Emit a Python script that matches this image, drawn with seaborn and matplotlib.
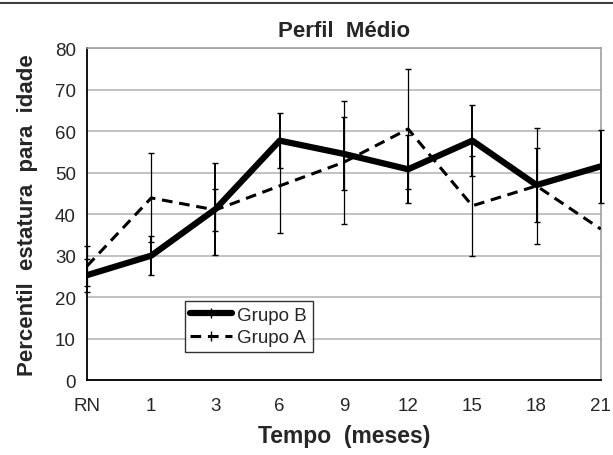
import numpy as np
import pandas as pd
import matplotlib.pyplot as plt
import seaborn as sns
from matplotlib.lines import Line2D

months = ['RN', '1', '3', '6', '9', '12', '15', '18', '21']
grupo_b = [25.3, 30.0, 41.2, 57.7, 54.5, 50.8, 57.7, 47.0, 51.5]
grupo_b_err = [4.0, 4.7, 11.0, 6.6, 8.8, 8.2, 8.6, 9.0, 8.8]
grupo_a = [27.5, 43.9, 41.0, 46.8, 52.5, 60.5, 42.0, 46.8, 36.4]
grupo_a_err = [4.8, 10.7, 5.0, 11.4, 14.8, 14.5, 12.0, 14.0, np.nan]

sns.set_style('white')
plt.rcParams['font.family'] = ['Liberation Sans', 'DejaVu Sans']

df = pd.DataFrame({
    'pos': list(range(len(months))) * 2,
    'valor': grupo_b + grupo_a,
    'grupo': ['Grupo B'] * len(months) + ['Grupo A'] * len(months),
})

fig = plt.figure(figsize=(6.13, 4.56), dpi=100)
ax = fig.add_axes([0.142, 0.164, 0.838, 0.7285])
x = np.arange(len(months))

# error bars first (thin black), then the means on top
for vals, errs, lw in [(grupo_a, grupo_a_err, 0.9), (grupo_b, grupo_b_err, 1.4)]:
    eb = ax.errorbar(x, vals, yerr=errs, fmt='none', ecolor='black',
                     elinewidth=lw, capsize=2, capthick=1.0, zorder=3)
    for art in eb.lines[1] + eb.lines[2]:
        art.set_clip_on(False)

dash = (0, (3.5, 2.2))
sns.lineplot(data=df[df.grupo == 'Grupo A'], x='pos', y='valor', ax=ax,
             color='black', linewidth=2.2, linestyle=dash,
             legend=False, zorder=4)
sns.lineplot(data=df[df.grupo == 'Grupo B'], x='pos', y='valor', ax=ax,
             color='black', linewidth=4.5, legend=False, zorder=5)

ax.set_xlim(0, len(months) - 1)
ax.set_ylim(0, 80)
ax.set_yticks(range(0, 81, 10))
ax.set_xticks(x)
ax.set_xticklabels(months)
ax.yaxis.grid(True, color='#b8b8b8', linewidth=1.2)
ax.set_axisbelow(True)

for s in ['top', 'right']:
    ax.spines[s].set_color('#a0a0a0')
    ax.spines[s].set_linewidth(1.2)
for s in ['left', 'bottom']:
    ax.spines[s].set_color('black')
    ax.spines[s].set_linewidth(1.3)

ax.tick_params(axis='y', direction='out', length=5, width=1.2, labelsize=13.5, pad=3)
ax.tick_params(axis='x', direction='inout', length=10, width=1.2, labelsize=13.5, pad=7)

ax.set_title('Perfil  Médio', fontsize=16, fontweight='bold', pad=9)
ax.set_xlabel('Tempo  (meses)', fontsize=16.5, fontweight='bold', labelpad=7)
ax.set_ylabel('Percentil  estatura  para  idade', fontsize=16, fontweight='bold', labelpad=12)

handles = [
    Line2D([], [], color='black', linewidth=4.5, marker='|', markersize=7, markeredgewidth=1),
    Line2D([], [], color='black', linewidth=2.2, linestyle=dash,
           marker='|', markersize=7, markeredgewidth=1),
]
leg = ax.legend(handles, ['Grupo B', 'Grupo A'], loc='lower left',
                bbox_to_anchor=(0.19, 0.085), frameon=True, fancybox=False,
                fontsize=13.5, handlelength=2.2, handletextpad=0.3,
                borderpad=0.3, labelspacing=0.3, borderaxespad=0)
leg.get_frame().set_edgecolor('black')
leg.get_frame().set_linewidth(1.0)

# dark rule across the top of the figure
fig.add_artist(Line2D([0, 1], [0.992, 0.992], color='#404040', linewidth=1.5,
                      transform=fig.transFigure))

fig.savefig('out.png', dpi=100)
